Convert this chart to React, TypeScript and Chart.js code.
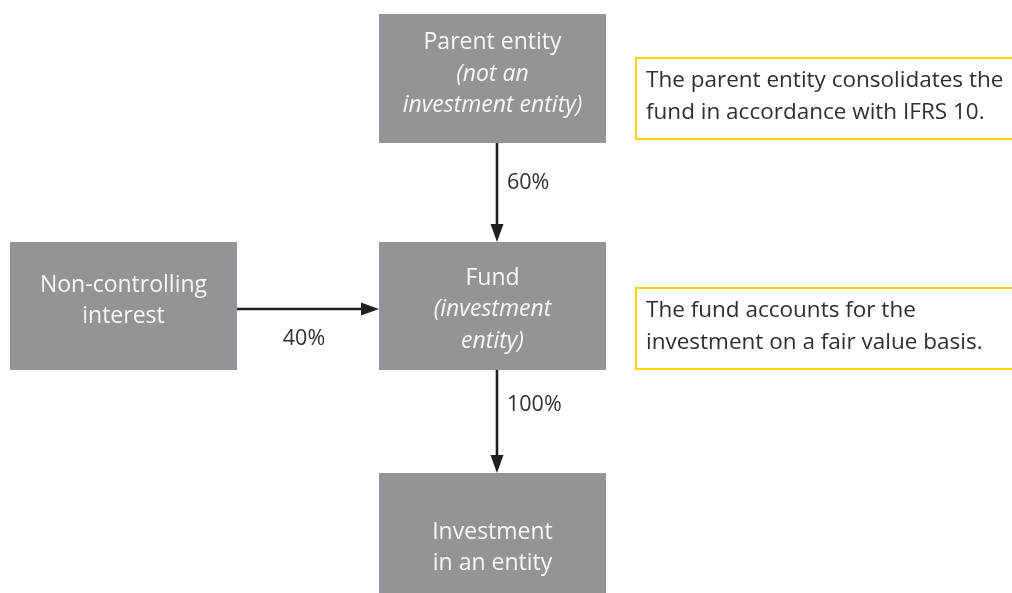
import React, { useEffect, useRef } from "react";
import { Chart, registerables } from "chart.js";

Chart.register(...registerables);

// Diagram nodes (in diagram units, 0..1012 x 0..593)
const nodeIds = ["parent", "nci", "fund", "investment"];
const nodeLeft = [379, 10, 379, 379];
const nodeRight = [606, 237, 606, 606];
const nodeTop = [14, 242, 242, 473];
const nodeBottom = [143, 370, 370, 600];
const nodeTextY = [74, 301, 309.5, 548];
const nodeLines: string[][] = [
  ["Parent entity", "(not an", "investment entity)"],
  ["Non-controlling", "interest"],
  ["Fund", "(investment", "entity)"],
  ["Investment", "in an entity"],
];
const nodeItalic: boolean[][] = [
  [false, true, true],
  [false, false],
  [false, true, true],
  [false, false],
];

// Arrows: from node -> to node, with share labels
const arrowFrom = ["parent", "nci", "fund"];
const arrowTo = ["fund", "fund", "investment"];
const arrowLabels = ["60%", "40%", "100%"];
const arrowLabelY = [183, 339, 405];

// Notes
const noteLeft = [636, 636];
const noteRight = [1020, 1020];
const noteTop = [58, 288];
const noteBottom = [139, 369];
const noteLines: string[][] = [
  ["The parent entity consolidates the", "fund in accordance with IFRS 10."],
  ["The fund accounts for the", "investment on a fair value basis."],
];

const FONT = "'Open Sans', 'DejaVu Sans', sans-serif";
const BOX = "#929497";
const BOX_TEXT = "#f7f7f7";
const INK = "#2e2e38";
const ARROW = "#231f20";
const YELLOW = "#ffd200";

const diagramPlugin = {
  id: "diagram",
  afterDraw(chart: any) {
    const ctx = chart.ctx as CanvasRenderingContext2D;
    const xs = chart.scales.x;
    const ys = chart.scales.y;
    const px = (v: number) => xs.getPixelForValue(v);
    const py = (v: number) => ys.getPixelForValue(v);
    ctx.save();

    // boxes
    nodeIds.forEach((_, i) => {
      const l = px(nodeLeft[i]);
      const r = px(nodeRight[i]);
      const t = py(nodeTop[i]);
      const b = py(nodeBottom[i]);
      ctx.fillStyle = BOX;
      ctx.fillRect(l, t, r - l, b - t);
      const lines = nodeLines[i];
      const cx = (l + r) / 2;
      const cy = py(nodeTextY[i]);
      const lh = 31.5;
      ctx.fillStyle = BOX_TEXT;
      ctx.textAlign = "center";
      ctx.textBaseline = "middle";
      lines.forEach((ln, j) => {
        ctx.font = `${nodeItalic[i][j] ? "italic " : ""}23px ${FONT}`;
        ctx.fillText(ln, cx, cy + (j - (lines.length - 1) / 2) * lh);
      });
    });

    // arrows
    const idx = (id: string) => nodeIds.indexOf(id);
    arrowFrom.forEach((f, k) => {
      const a = idx(f);
      const b = idx(arrowTo[k]);
      let x1: number, y1: number, x2: number, y2: number;
      const vertical = nodeLeft[a] === nodeLeft[b];
      if (vertical) {
        x1 = x2 = px((nodeLeft[a] + nodeRight[a]) / 2 + 4.5);
        y1 = py(nodeBottom[a]);
        y2 = py(nodeTop[b]);
      } else {
        y1 = y2 = py((nodeTop[a] + nodeBottom[a]) / 2 + 3);
        x1 = px(nodeRight[a]);
        x2 = px(nodeLeft[b]);
      }
      ctx.strokeStyle = ARROW;
      ctx.fillStyle = ARROW;
      ctx.lineWidth = 2.6;
      const head = 18;
      const hw = 6.5;
      ctx.beginPath();
      if (vertical) {
        ctx.moveTo(x1, y1);
        ctx.lineTo(x2, y2 - head + 2);
      } else {
        ctx.moveTo(x1, y1);
        ctx.lineTo(x2 - head + 2, y2);
      }
      ctx.stroke();
      ctx.beginPath();
      if (vertical) {
        ctx.moveTo(x2, y2);
        ctx.lineTo(x2 - hw, y2 - head);
        ctx.lineTo(x2 + hw, y2 - head);
      } else {
        ctx.moveTo(x2, y2);
        ctx.lineTo(x2 - head, y2 - hw);
        ctx.lineTo(x2 - head, y2 + hw);
      }
      ctx.closePath();
      ctx.fill();

      ctx.fillStyle = INK;
      ctx.font = `21.5px ${FONT}`;
      ctx.textBaseline = "middle";
      const ly = py(arrowLabelY[k]);
      if (vertical) {
        ctx.textAlign = "left";
        ctx.fillText(arrowLabels[k], x1 + 10, ly);
      } else {
        ctx.textAlign = "center";
        ctx.fillText(arrowLabels[k], (x1 + x2) / 2 - 4, ly);
      }
    });

    // notes
    noteLines.forEach((lines, i) => {
      const l = px(noteLeft[i]);
      const r = px(noteRight[i]);
      const t = py(noteTop[i]);
      const b = py(noteBottom[i]);
      ctx.strokeStyle = YELLOW;
      ctx.lineWidth = 2;
      ctx.strokeRect(l, t, r - l, b - t);
      ctx.fillStyle = INK;
      ctx.font = `22.5px ${FONT}`;
      ctx.textAlign = "left";
      ctx.textBaseline = "middle";
      const cy = (t + b) / 2 - 2;
      lines.forEach((ln, j) => {
        ctx.fillText(ln, l + 10, cy + (j - 0.5) * 32);
      });
    });

    ctx.restore();
  },
};

export default function App() {
  const ref = useRef<HTMLCanvasElement | null>(null);
  useEffect(() => {
    document.body.style.margin = "0";
    const canvas = ref.current!;
    const chart = new Chart(canvas, {
      type: "scatter",
      data: { datasets: [{ data: [], pointRadius: 0 }] },
      options: {
        animation: false,
        responsive: false,
        layout: { padding: 0 },
        plugins: { legend: { display: false }, tooltip: { enabled: false } },
        scales: {
          x: { type: "linear", min: 0, max: 1012, display: false },
          y: { type: "linear", min: 0, max: 593, reverse: true, display: false },
        },
      },
      plugins: [diagramPlugin],
    });
    return () => chart.destroy();
  }, []);
  return (
    <div style={{ position: "absolute", left: 0, top: 0, width: 1012, height: 593, background: "#fff" }}>
      <canvas ref={ref} width={1012} height={593} />
    </div>
  );
}
